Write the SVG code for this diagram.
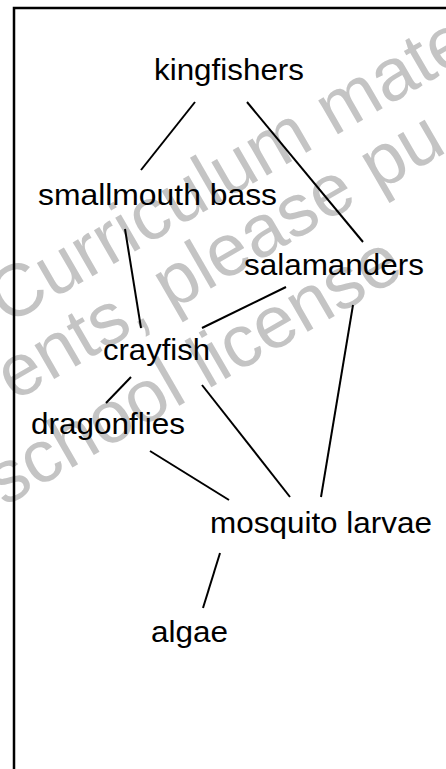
<svg xmlns="http://www.w3.org/2000/svg" width="446" height="769" viewBox="0 0 446 769">
<style>
.wm{font-family:"Liberation Sans",Arial,sans-serif;font-size:74px;fill:#c4c4c4}
.lbl{font-family:"Liberation Sans",Arial,Helvetica,sans-serif;font-size:29px;fill:#000}
.edge{stroke:#000;stroke-width:2;fill:none;stroke-linecap:butt}
</style>
<rect width="446" height="769" fill="#fff"/>
<g id="watermark">
<text class="wm" transform="translate(6,326) rotate(-30)">Curriculum mate</text>
<text class="wm" transform="translate(14,402) rotate(-30)">ents, please pu</text>
<text class="wm" transform="translate(4,507) rotate(-30)">school license</text>
</g>
<rect x="14" y="8" width="450" height="780" fill="none" stroke="#000" stroke-width="2.5"/>
<g id="connectors">
<line class="edge" x1="195" y1="102" x2="141" y2="170"/>
<line class="edge" x1="247" y1="102" x2="363" y2="242"/>
<line class="edge" x1="125" y1="229" x2="141" y2="328"/>
<line class="edge" x1="286" y1="287" x2="202" y2="328"/>
<line class="edge" x1="353" y1="305" x2="321" y2="497"/>
<line class="edge" x1="131" y1="377" x2="106" y2="403"/>
<line class="edge" x1="202" y1="385" x2="290" y2="497"/>
<line class="edge" x1="150" y1="451" x2="229" y2="500"/>
<line class="edge" x1="220" y1="553" x2="203" y2="608"/>
</g>
<g id="kingfishers"><text class="lbl" x="154" y="80" textLength="150" lengthAdjust="spacingAndGlyphs">kingfishers</text></g>
<g id="smallmouth-bass"><text class="lbl" x="38" y="205" textLength="239" lengthAdjust="spacingAndGlyphs">smallmouth bass</text></g>
<g id="salamanders"><text class="lbl" x="244" y="275" textLength="180" lengthAdjust="spacingAndGlyphs">salamanders</text></g>
<g id="crayfish"><text class="lbl" x="103" y="360" textLength="107" lengthAdjust="spacingAndGlyphs">crayfish</text></g>
<g id="dragonflies"><text class="lbl" x="31" y="434" textLength="154" lengthAdjust="spacingAndGlyphs">dragonflies</text></g>
<g id="mosquito-larvae"><text class="lbl" x="210" y="533" textLength="222" lengthAdjust="spacingAndGlyphs">mosquito larvae</text></g>
<g id="algae"><text class="lbl" x="151" y="642" textLength="77" lengthAdjust="spacingAndGlyphs">algae</text></g>
</svg>
